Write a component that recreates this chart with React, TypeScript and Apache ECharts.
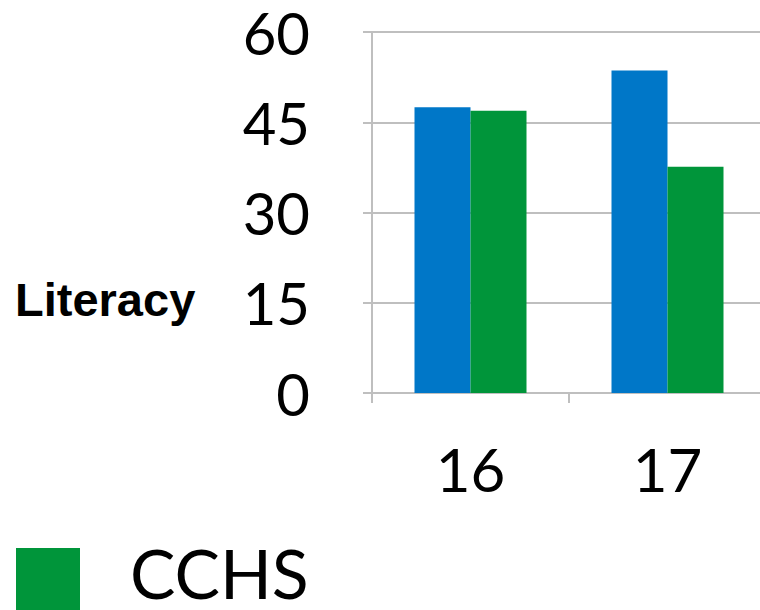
import React, { useEffect, useRef } from "react";
import * as echarts from "echarts";

const categories = ["16", "17"];
const seriesNames = ["Survey", "CCHS"];
const blueValues = [47.5, 53.6];
const greenValues = [46.9, 37.6];
const yTicks = [0, 15, 30, 45, 60];
const blue = "#0077c8";
const green = "#00953a";

export default function App() {
  const ref = useRef<HTMLDivElement>(null);
  useEffect(() => {
    if (!ref.current) return;
    const chart = echarts.init(ref.current, undefined, { renderer: "svg" });
    const gray = "#bfbfbf";
    const tickFont = "Lato, 'Open Sans', sans-serif";
    chart.setOption({
      animation: false,
      grid: { left: 372, top: 32, width: 394, height: 361, containLabel: false },
      graphic: [
        {
          type: "text",
          left: 15,
          top: 276,
          style: {
            text: "Literacy",
            fontFamily: "'Liberation Sans', Arial, sans-serif",
            fontWeight: "bold",
            fontSize: 47,
            fill: "#000",
          },
        },
        {
          type: "rect",
          left: 16,
          top: 548,
          shape: { width: 64, height: 64 },
          style: { fill: green },
        },
        {
          type: "text",
          left: 130,
          top: 538,
          style: {
            text: seriesNames[1],
            fontFamily: tickFont,
            fontSize: 68,
            fill: "#000",
          },
        },
      ],
      xAxis: {
        type: "category",
        data: categories,
        axisLine: { show: true, lineStyle: { color: gray, width: 2 } },
        axisTick: { show: true, length: 10, lineStyle: { color: gray, width: 2 } },
        axisLabel: { fontFamily: tickFont, fontSize: 60, color: "#000", margin: 46 },
      },
      yAxis: {
        type: "value",
        min: yTicks[0],
        max: yTicks[yTicks.length - 1],
        interval: 15,
        axisLine: { show: true, lineStyle: { color: gray, width: 2 } },
        axisTick: { show: true, length: 9, lineStyle: { color: gray, width: 2 } },
        splitLine: { show: true, lineStyle: { color: gray, width: 2 } },
        axisLabel: {
          fontFamily: tickFont,
          fontSize: 58,
          lineHeight: 56,
          color: "#000",
          margin: 62,
        },
      },
      series: [
        {
          name: seriesNames[0],
          type: "bar",
          data: blueValues,
          barWidth: 56,
          barGap: "0%",
          itemStyle: { color: blue },
        },
        {
          name: seriesNames[1],
          type: "bar",
          data: greenValues,
          barWidth: 56,
          barGap: "0%",
          itemStyle: { color: green },
        },
      ],
    });
    return () => chart.dispose();
  }, []);
  return (
    <div
      style={{
        position: "absolute",
        left: 0,
        top: 0,
        width: 760,
        height: 610,
        overflow: "hidden",
      }}
    >
      <div ref={ref} style={{ width: 790, height: 610 }} />
    </div>
  );
}
